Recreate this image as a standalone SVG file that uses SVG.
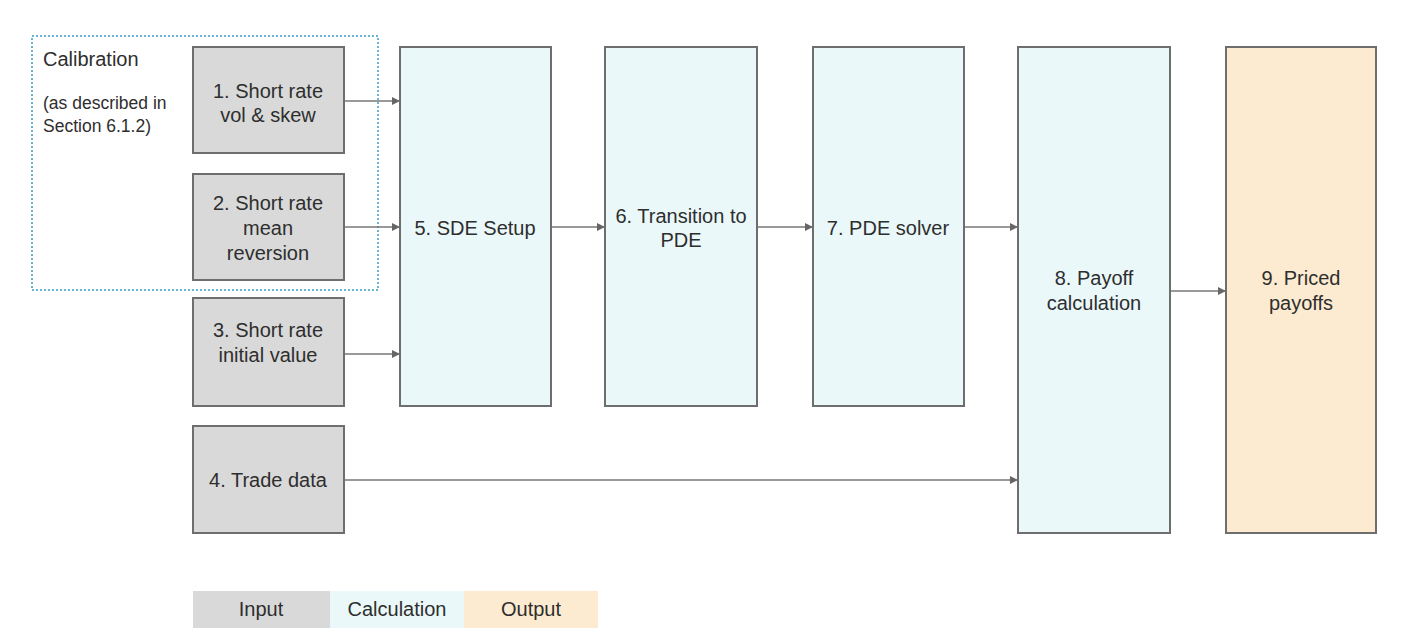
<svg xmlns="http://www.w3.org/2000/svg" width="1403" height="633" viewBox="0 0 1403 633">
<defs>
<style>
.in{fill:#d9d9d9;stroke:#6e6e6e;stroke-width:2}
.calc{fill:#eaf8fa;stroke:#6e6e6e;stroke-width:2}
.out{fill:#fcebd0;stroke:#6e6e6e;stroke-width:2}
text{font-family:"Liberation Sans",Arial,sans-serif;font-size:20px;fill:#2e2e2e;text-anchor:middle}
.small{font-size:17.5px;text-anchor:start}
.cap{font-size:20px;text-anchor:start}
.conn{stroke:#777;stroke-width:1.5;fill:none;marker-end:url(#arr)}
</style>
<marker id="arr" viewBox="0 0 10 10" refX="10" refY="5" markerWidth="8" markerHeight="8" markerUnits="userSpaceOnUse" orient="auto">
<path d="M0,0 L10,5 L0,10 z" fill="#666"/>
</marker>
</defs>
<rect width="1403" height="633" fill="#fff"/>
<g id="calibration">
<rect x="32" y="36" width="346" height="254" fill="none" stroke="#3a9cc4" stroke-width="1.5" stroke-dasharray="2,2"/>
<text class="cap" x="43" y="66">Calibration</text>
<text class="small" x="43" y="109">(as described in</text>
<text class="small" x="43" y="132">Section 6.1.2)</text>
</g>
<g id="connectors">
<path class="conn" d="M344,101 H400"/>
<path class="conn" d="M344,227 H400"/>
<path class="conn" d="M344,354 H400"/>
<path class="conn" d="M551,227 H605"/>
<path class="conn" d="M757,227 H813"/>
<path class="conn" d="M964,227 H1018"/>
<path class="conn" d="M344,480 H1018"/>
<path class="conn" d="M1170,291 H1226"/>
</g>
<g id="n1"><rect class="in" x="193" y="47" width="151" height="106"/><text x="268" y="98">1. Short rate</text><text x="268" y="122">vol &amp; skew</text></g>
<g id="n2"><rect class="in" x="193" y="174" width="151" height="106"/><text x="268" y="210">2. Short rate</text><text x="268" y="235">mean</text><text x="268" y="260">reversion</text></g>
<g id="n3"><rect class="in" x="193" y="298" width="151" height="108"/><text x="268" y="337">3. Short rate</text><text x="268" y="362">initial value</text></g>
<g id="n4"><rect class="in" x="193" y="426" width="151" height="107"/><text x="268" y="487">4. Trade data</text></g>
<g id="n5"><rect class="calc" x="400" y="47" width="151" height="359"/><text x="475" y="235">5. SDE Setup</text></g>
<g id="n6"><rect class="calc" x="605" y="47" width="152" height="359"/><text x="681" y="223">6. Transition to</text><text x="681" y="247">PDE</text></g>
<g id="n7"><rect class="calc" x="813" y="47" width="151" height="359"/><text x="888" y="235">7. PDE solver</text></g>
<g id="n8"><rect class="calc" x="1018" y="47" width="152" height="486"/><text x="1094" y="285">8. Payoff</text><text x="1094" y="310">calculation</text></g>
<g id="n9"><rect class="out" x="1226" y="47" width="150" height="486"/><text x="1301" y="285">9. Priced</text><text x="1301" y="310">payoffs</text></g>
<g id="legend">
<rect x="193" y="591" width="137" height="37" fill="#d9d9d9"/>
<rect x="330" y="591" width="134" height="37" fill="#eaf8fa"/>
<rect x="464" y="591" width="134" height="37" fill="#fcebd0"/>
<text x="261" y="616">Input</text>
<text x="397" y="616">Calculation</text>
<text x="531" y="616">Output</text>
</g>
</svg>
